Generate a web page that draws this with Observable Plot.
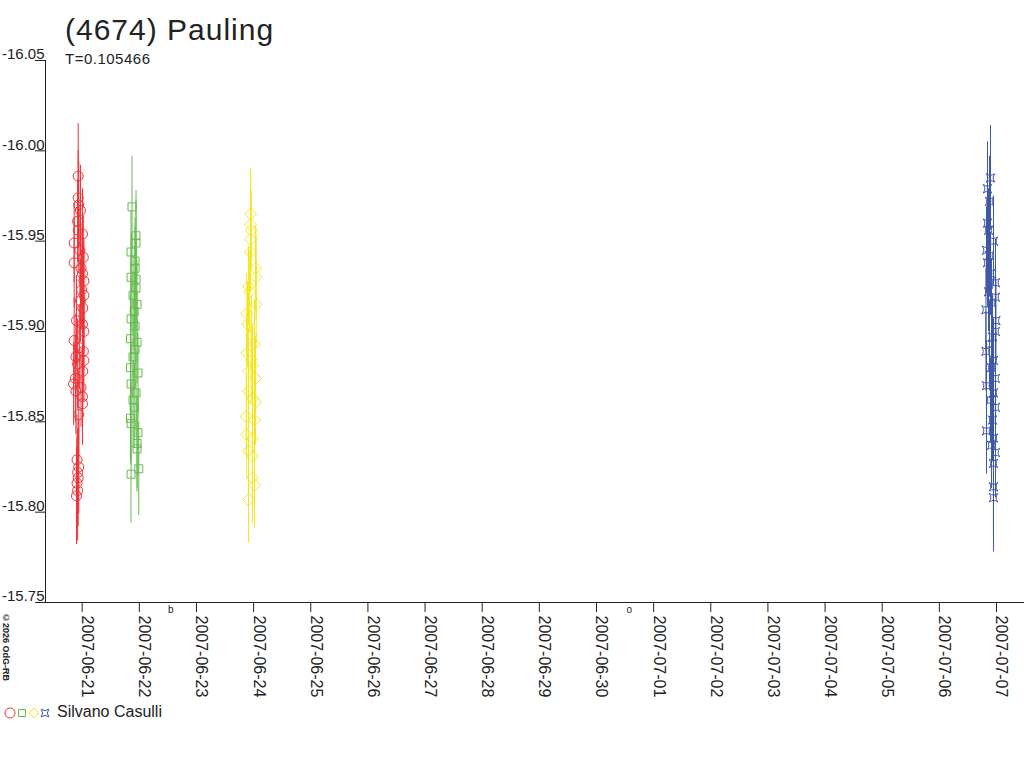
<!DOCTYPE html>
<html><head><meta charset="utf-8">
<script src="https://cdn.jsdelivr.net/npm/d3@7"></script>
<script src="https://cdn.jsdelivr.net/npm/@observablehq/plot@0.6"></script>
<style>
body{margin:0;background:#fff;font-family:"Liberation Sans",Arial,sans-serif;color:#222}
#wrap{position:relative;width:1024px;height:768px;overflow:hidden;background:#fff}
#chart{position:absolute;left:0;top:0}
.abs{position:absolute;white-space:nowrap}
</style></head><body>
<div id="wrap">
<div id="chart"></div>
<div class="abs" style="left:65px;top:15px;font-size:30px;line-height:30px;letter-spacing:1px">(4674) Pauling</div>
<div class="abs" style="left:65px;top:51px;font-size:15px;line-height:15px;letter-spacing:0.5px">T=0.105466</div>
<div class="abs" style="left:1px;top:613px;font-size:9px;line-height:9px;font-weight:bold;writing-mode:vertical-rl">©2026 OdG-RB</div>
<svg id="legsym" class="abs" style="left:0;top:700px" width="56" height="26"></svg>
<div class="abs" style="left:57px;top:704px;font-size:16px;line-height:16px">Silvano Casulli</div>
</div>
<script>
// ---- data ----
const baseDate = "2007-06-21T00:00:00Z";
const xTickLabels = ["2007-06-21","2007-06-22","2007-06-23","2007-06-24","2007-06-25","2007-06-26","2007-06-27","2007-06-28","2007-06-29","2007-06-30","2007-07-01","2007-07-02","2007-07-03","2007-07-04","2007-07-05","2007-07-06","2007-07-07"];
const yTicks = [-16.05,-16.00,-15.95,-15.90,-15.85,-15.80,-15.75];
const yDomain = [-16.05,-15.75];
const moonDates = ["2007-06-22T13:15:00Z","2007-06-30T13:49:00Z"];
const moonGlyphs = ["b","o"];
const seriesColors = ["#ee3338","#66bb4f","#f4e61e","#3d57a6"];

// days since baseDate
const redT = [-0.07,-0.07,-0.06,-0.03,-0.08,-0.07,0.005,-0.14,-0.04,0.02,-0.14,-0.02,0.005,0.03,-0.01,0.03,-0.03,0.01,-0.10,0.005,0.03,-0.14,-0.05,0.02,-0.11,0.03,-0.08,0.01,-0.12,-0.15,-0.02,-0.11,0.005,0.005,-0.06,-0.09,-0.06,-0.08,-0.07,-0.09,-0.08,-0.10];
const redMag = [-15.986,-15.974,-15.970,-15.967,-15.961,-15.956,-15.954,-15.949,-15.945,-15.941,-15.938,-15.935,-15.932,-15.928,-15.923,-15.920,-15.917,-15.913,-15.906,-15.904,-15.900,-15.895,-15.891,-15.889,-15.886,-15.884,-15.882,-15.878,-15.874,-15.871,-15.869,-15.867,-15.864,-15.860,-15.854,-15.829,-15.825,-15.822,-15.819,-15.816,-15.812,-15.809];
const redErr = [0.029,0.026,0.024,0.025,0.023,0.024,0.025,0.022,0.024,0.023,0.025,0.022,0.024,0.023,0.022,0.024,0.023,0.022,0.025,0.023,0.022,0.024,0.023,0.022,0.024,0.023,0.025,0.022,0.024,0.023,0.022,0.024,0.025,0.023,0.024,0.025,0.026,0.024,0.027,0.025,0.028,0.027];

const greenT = [0.872,0.942,0.942,0.855,0.925,0.925,0.855,0.942,0.942,0.890,0.960,0.910,0.855,0.925,0.845,0.960,0.925,0.890,0.845,0.977,0.855,0.942,0.890,0.910,0.845,0.855,0.977,0.960,0.960,0.990,0.855];
const greenMag = [-15.969,-15.953,-15.949,-15.944,-15.939,-15.935,-15.930,-15.929,-15.924,-15.920,-15.915,-15.911,-15.907,-15.903,-15.896,-15.894,-15.890,-15.886,-15.880,-15.877,-15.871,-15.866,-15.862,-15.858,-15.852,-15.849,-15.844,-15.838,-15.835,-15.824,-15.821];
const greenErr = [0.028,0.025,0.024,0.023,0.024,0.023,0.024,0.022,0.023,0.022,0.024,0.022,0.023,0.022,0.024,0.023,0.022,0.023,0.024,0.022,0.023,0.024,0.022,0.023,0.024,0.023,0.024,0.025,0.024,0.026,0.027];

const yellowT = [2.946,2.946,2.960,2.946,2.946,3.033,3.045,2.911,2.930,3.045,2.880,2.893,2.960,3.016,2.880,2.960,2.981,2.911,3.033,2.911,2.981,3.033,2.870,3.016,2.880,2.981,2.911,2.981,2.981,3.016,2.911];
const yellowMag = [-15.965,-15.959,-15.956,-15.951,-15.944,-15.935,-15.930,-15.925,-15.922,-15.915,-15.910,-15.904,-15.898,-15.893,-15.888,-15.884,-15.881,-15.878,-15.874,-15.867,-15.863,-15.861,-15.853,-15.851,-15.843,-15.841,-15.834,-15.831,-15.819,-15.815,-15.807];
const yellowErr = [0.025,0.023,0.022,0.023,0.022,0.023,0.024,0.022,0.023,0.024,0.022,0.023,0.022,0.024,0.022,0.023,0.022,0.024,0.023,0.022,0.023,0.024,0.022,0.023,0.024,0.023,0.024,0.023,0.025,0.024,0.024];

const blueT = [15.895,15.842,15.877,15.842,15.860,15.947,15.825,15.877,15.842,15.895,15.982,15.860,15.982,15.912,15.815,15.990,15.982,15.930,15.877,15.815,15.947,15.912,15.982,15.825,15.947,15.895,15.982,15.930,15.825,15.947,15.912,15.982,15.947,15.947,15.947];
const blueMag = [-15.985,-15.979,-15.972,-15.960,-15.956,-15.950,-15.945,-15.942,-15.938,-15.932,-15.927,-15.922,-15.919,-15.916,-15.912,-15.906,-15.900,-15.897,-15.893,-15.889,-15.884,-15.880,-15.874,-15.870,-15.866,-15.862,-15.858,-15.851,-15.845,-15.841,-15.837,-15.833,-15.827,-15.814,-15.808];
const blueErr = [0.029,0.026,0.025,0.024,0.023,0.025,0.024,0.023,0.024,0.023,0.024,0.022,0.023,0.024,0.023,0.022,0.024,0.023,0.024,0.022,0.023,0.024,0.023,0.024,0.022,0.023,0.024,0.023,0.024,0.025,0.024,0.025,0.026,0.027,0.030];

// ---- build ----
const DAY = 864e5;
const base = new Date(baseDate).getTime();
const toRows = (T, M, E) => T.map((t, i) => ({date: new Date(base + t * DAY), mag: M[i], err: E[i]}));
const red = toRows(redT, redMag, redErr);
const green = toRows(greenT, greenMag, greenErr);
const yellow = toRows(yellowT, yellowMag, yellowErr);
const blue = toRows(blueT, blueMag, blueErr);
const xTickDates = xTickLabels.map(s => new Date(s + "T00:00:00Z"));

const astroid = {
  draw(ctx, size) {
    const h = Math.sqrt(size / Math.PI) * 0.85, c = h * 0.25;
    ctx.moveTo(-h, -h);
    ctx.quadraticCurveTo(0, -c, h, -h);
    ctx.quadraticCurveTo(c, 0, h, h);
    ctx.quadraticCurveTo(0, c, -h, h);
    ctx.quadraticCurveTo(-c, 0, -h, -h);
    ctx.closePath();
  }
};

const series = [
  {data: red, color: seriesColors[0], symbol: "circle", r: 5},
  {data: green, color: seriesColors[1], symbol: "square", r: 4.5},
  {data: yellow, color: seriesColors[2], symbol: "diamond2", r: 5.4},
  {data: blue, color: seriesColors[3], symbol: astroid, r: 5}
];

const marks = [];
for (const s of series) {
  marks.push(Plot.ruleX(s.data, {x: "date", y1: d => d.mag - d.err, y2: d => d.mag + d.err, stroke: s.color, strokeWidth: 1}));
  marks.push(Plot.dot(s.data, {x: "date", y: "mag", symbol: s.symbol, r: s.r, stroke: s.color, fill: "none", strokeWidth: 1}));
}

const chart = Plot.plot({
  width: 1024,
  height: 768,
  marginTop: 60,
  marginBottom: 166,
  marginLeft: 45,
  marginRight: 0,
  style: {fontFamily: "Liberation Sans, Arial, sans-serif", color: "#222", background: "transparent", overflow: "visible"},
  x: {type: "utc", domain: [new Date(base - 0.642 * DAY), new Date(base + 16.49 * DAY)]},
  y: {domain: yDomain, reverse: true},
  marks: [
    ...marks,
    Plot.frame({anchor: "left", stroke: "#222"}),
    Plot.ruleY([yDomain[1]], {stroke: "#222", insetLeft: -9}),
    Plot.axisY(yTicks, {tickSize: 10, fill: "none", stroke: "#222", label: null}),
    Plot.axisY(yTicks, {tickSize: 0, tickPadding: 1, dy: -6, fontSize: 15, fill: "#222", tickFormat: d => d.toFixed(2), label: null}),
    Plot.axisX(xTickDates, {tickSize: 10, fill: "none", stroke: "#222", label: null}),
    Plot.text(xTickDates, {x: d => d, text: (d, i) => xTickLabels[i], frameAnchor: "bottom", rotate: 90, textAnchor: "start", lineAnchor: "bottom", dy: 13, fontSize: 16, fill: "#222"}),
    Plot.text(moonDates, {x: d => new Date(d), text: (d, i) => moonGlyphs[i], frameAnchor: "bottom", lineAnchor: "top", dy: 3, fontSize: 10, fill: "#222"})
  ]
});
document.getElementById("chart").append(chart);

// legend symbols
const leg = d3.select("#legsym");
const legendItems = [
  {type: d3.symbolCircle, size: Math.PI * 25, color: seriesColors[0], x: 10},
  {type: d3.symbolSquare, size: 49, color: seriesColors[1], x: 22},
  {type: d3.symbolDiamond2, size: 64, color: seriesColors[2], x: 34},
  {type: astroid, size: Math.PI * 20, color: seriesColors[3], x: 45}
];
for (const it of legendItems) {
  leg.append("path")
    .attr("transform", `translate(${it.x},13)`)
    .attr("d", d3.symbol(it.type, it.size)())
    .attr("fill", "none")
    .attr("stroke", it.color)
    .attr("stroke-width", 1);
}
</script>
</body></html>
